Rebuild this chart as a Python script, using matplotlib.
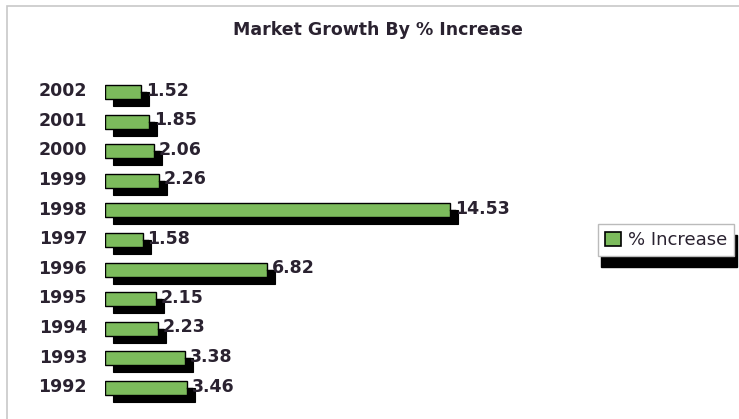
import matplotlib
matplotlib.use("Agg")
import matplotlib.pyplot as plt
from matplotlib.patches import Patch, Rectangle
from matplotlib.transforms import ScaledTranslation

years = ["1992", "1993", "1994", "1995", "1996", "1997", "1998", "1999", "2000", "2001", "2002"]
values = [3.46, 3.38, 2.23, 2.15, 6.82, 1.58, 14.53, 2.26, 2.06, 1.85, 1.52]
value_labels = ["3.46", "3.38", "2.23", "2.15", "6.82", "1.58", "14.53", "2.26", "2.06", "1.85", "1.52"]
title = "Market Growth By % Increase"
series_name = "% Increase"

W, H = 739, 419
fig = plt.figure(figsize=(W / 100, H / 100), dpi=100)
fig.patch.set_facecolor("white")

# frame around figure
fig.add_artist(Rectangle((7 / W, -0.01), (W - 7) / W + 0.01, 1 - 6 / H + 0.01, transform=fig.transFigure,
                         fill=False, edgecolor="#c8c8c8", lw=1.2))

px_per_unit = (450 - 105) / 14.53
row_px = (388 - 92) / 10.0
ax_left, ax_right = 105, 590
ax_top, ax_bottom = 70, 410
ax = fig.add_axes([ax_left / W, 1 - ax_bottom / H, (ax_right - ax_left) / W, (ax_bottom - ax_top) / H])
ax.set_xlim(0, (ax_right - ax_left) / px_per_unit)
ax.set_ylim(-(ax_bottom - 388) / row_px, 10 + (92 - ax_top) / row_px)
ax.axis("off")

green = "#7cbb5c"
txt = "#2a2230"
pos = list(range(len(years)))
bh = 14 / row_px
shadow = ax.barh(pos, values, height=bh, color="black", edgecolor="black", lw=0.8, zorder=1)
off = ScaledTranslation(8 / 100, -7 / 100, fig.dpi_scale_trans)
for p in shadow:
    p.set_transform(ax.transData + off)
bars = ax.barh(pos, values, height=bh, color=green, edgecolor="black", lw=1.0, zorder=2)

for y, v, lab in zip(pos, values, value_labels):
    ax.plot([v, v + 5 / px_per_unit], [y, y], color="black", lw=1, zorder=3, clip_on=False)
    ax.text(v + 5 / px_per_unit, y + 0.05, lab, ha="left", va="center", fontsize=12.5,
            fontweight="bold", color=txt, clip_on=False)
    ax.text(-18 / px_per_unit, y + 0.03, years[y], ha="right", va="center", fontsize=12.5,
            fontweight="bold", color=txt, clip_on=False)

fig.text(378 / W, 1 - 30 / H, title, ha="center", va="center", fontsize=12.5,
         fontweight="bold", color=txt)

leg = fig.legend(handles=[Patch(facecolor=green, edgecolor="black", lw=1.2)], labels=[series_name],
                 loc="center left", bbox_to_anchor=(598 / W, 1 - 240 / H), fancybox=False,
                 framealpha=1, edgecolor="#bbbbbb", fontsize=13, handlelength=0.85,
                 handleheight=0.85, handletextpad=0.4, borderpad=0.4, borderaxespad=0,
                 shadow={"ox": 2, "oy": -8, "color": "black", "alpha": 1})
for t in leg.get_texts():
    t.set_color(txt)

fig.savefig("out.png", dpi=100)
